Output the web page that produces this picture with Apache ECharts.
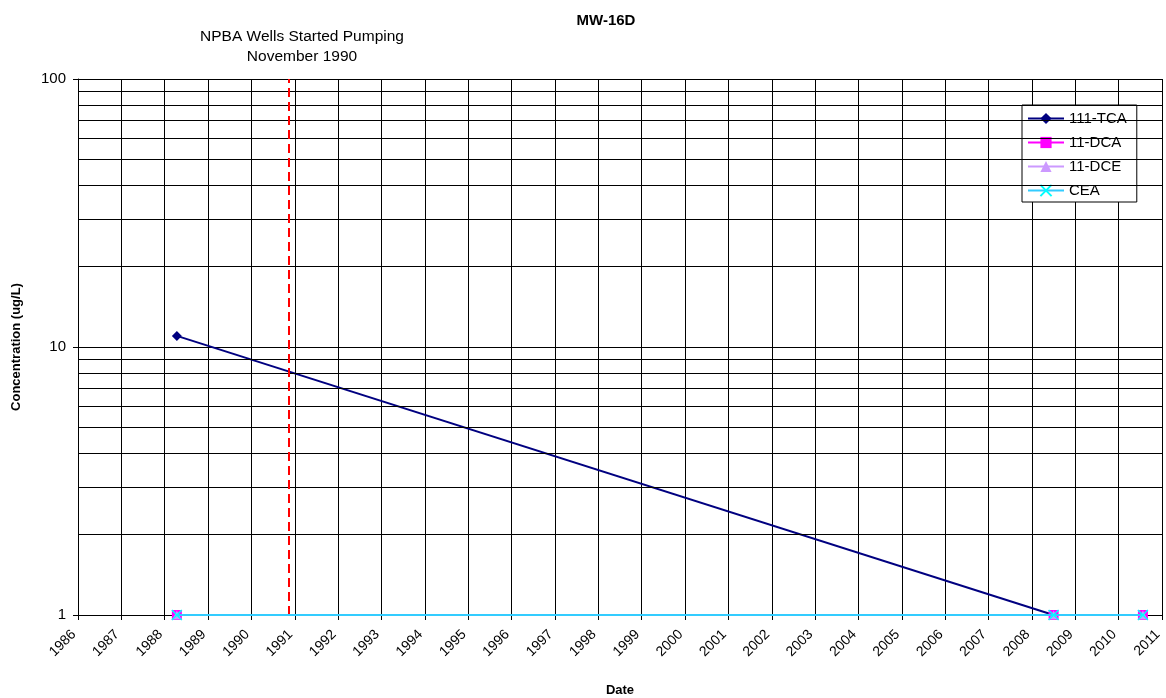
<!DOCTYPE html>
<html>
<head>
<meta charset="utf-8">
<script src="https://cdn.jsdelivr.net/npm/echarts@6/dist/echarts.min.js"></script>
<style>html,body{margin:0;padding:0;background:#fff;}#c{width:1166px;height:698px;}</style>
</head>
<body>
<div id="c"></div>
<script>
// Dates as decimal years
const tcaX = [1988.28, 2008.5];
const tcaY = [11, 1];
const dcaX = [1988.28, 2008.5, 2010.56];
const dcaY = [1, 1, 1];
const dceX = [1988.28, 2008.5, 2010.56];
const dceY = [1, 1, 1];
const ceaX = [1988.28, 2008.5, 2010.56];
const ceaY = [1, 1, 1];
const pumpingStart = 1990.87;
const minorY = [2,3,4,5,6,7,8,9,20,30,40,50,60,70,80,90];
const xMin = 1986, xMax = 2011;

const zip = (xs, ys) => xs.map((x, i) => [x, ys[i]]);
const FONT = 'Liberation Sans, Arial, sans-serif';
const xPath = 'path://M0,0L10,10M10,0L0,10';

const chart = echarts.init(document.getElementById('c'), null, {renderer: 'canvas'});
chart.setOption({
  animation: false,
  backgroundColor: '#fff',
  textStyle: {fontFamily: FONT},
  title: {
    text: 'MW-16D', left: 601, top: 8, textAlign: 'center',
    textStyle: {fontSize: 15, fontWeight: 'bold', color: '#000', fontFamily: FONT}
  },
  graphic: [{
    type: 'text', x: 302, y: 27,
    style: {text: 'NPBA Wells Started Pumping\nNovember 1990', fill: '#000', font: '15.5px ' + FONT, textAlign: 'center', lineHeight: 20}
  }],
  grid: {left: 78, right: 4, top: 79, bottom: 83, containLabel: false, outerBoundsMode: 'none'},
  legend: {
    orient: 'vertical', left: 1022, top: 105,
    backgroundColor: '#fff', borderColor: '#000', borderWidth: 1,
    padding: [6, 10, 4, 5], itemGap: 9, itemWidth: 36, itemHeight: 14,
    textStyle: {fontSize: 15, color: '#000', fontFamily: FONT},
    data: ['111-TCA', '11-DCA', '11-DCE', 'CEA']
  },
  xAxis: {
    type: 'value', min: xMin, max: xMax, interval: 1,
    name: 'Date', nameLocation: 'middle', nameGap: 69,
    nameTextStyle: {fontSize: 13, fontWeight: 'bold', color: '#000', fontFamily: FONT},
    axisLine: {show: true, lineStyle: {color: '#000', width: 1}},
    axisTick: {show: true, length: 5, lineStyle: {color: '#000'}},
    axisLabel: {rotate: 45, fontSize: 14, color: '#000', fontFamily: FONT, margin: 13, padding: [0, 6, 0, 0], formatter: v => String(Math.round(v))},
    splitLine: {show: true, lineStyle: {color: '#000', width: 1}}
  },
  yAxis: {
    type: 'log', logBase: 10, min: 1, max: 100,
    name: 'Concentration (ug/L)', nameLocation: 'middle', nameGap: 55,
    nameTextStyle: {fontSize: 13, fontWeight: 'bold', color: '#000', fontFamily: FONT},
    axisLine: {show: true, lineStyle: {color: '#000', width: 1}},
    axisTick: {show: true, length: 5, lineStyle: {color: '#000'}},
    axisLabel: {fontSize: 15, color: '#000', fontFamily: FONT, margin: 12},
    splitLine: {show: true, lineStyle: {color: '#000', width: 1}}
  },
  series: [
    {
      name: '_grid', type: 'line', data: [], silent: true, z: 1,
      markLine: {
        silent: true, symbol: 'none', label: {show: false},
        lineStyle: {color: '#000', width: 1, type: 'solid'},
        data: minorY.map(v => ({yAxis: v}))
      }
    },
    {
      name: '_pump', type: 'line', data: [], silent: true, z: 2,
      markLine: {
        silent: true, symbol: 'none', label: {show: false},
        lineStyle: {color: '#FF0000', width: 2, type: [9, 5]},
        data: [{xAxis: pumpingStart}]
      }
    },
    {
      name: '111-TCA', type: 'line', data: zip(tcaX, tcaY), z: 3,
      symbol: 'diamond', symbolSize: 10,
      lineStyle: {color: '#000080', width: 2}, itemStyle: {color: '#000080'}
    },
    {
      name: '11-DCA', type: 'line', data: zip(dcaX, dcaY), z: 4,
      symbol: 'rect', symbolSize: 10,
      lineStyle: {color: '#FF00FF', width: 2}, itemStyle: {color: '#FF00FF'}
    },
    {
      name: '11-DCE', type: 'line', data: zip(dceX, dceY), z: 5,
      symbol: 'triangle', symbolSize: 9,
      lineStyle: {color: '#CC99FF', width: 2}, itemStyle: {color: '#CC99FF'}
    },
    {
      name: 'CEA', type: 'line', data: zip(ceaX, ceaY), z: 6,
      symbol: xPath, symbolSize: 10,
      lineStyle: {color: '#33CCFF', width: 2},
      itemStyle: {color: 'rgba(0,0,0,0)', borderColor: '#00FFFF', borderWidth: 1.5}
    }
  ]
});
</script>
</body>
</html>
